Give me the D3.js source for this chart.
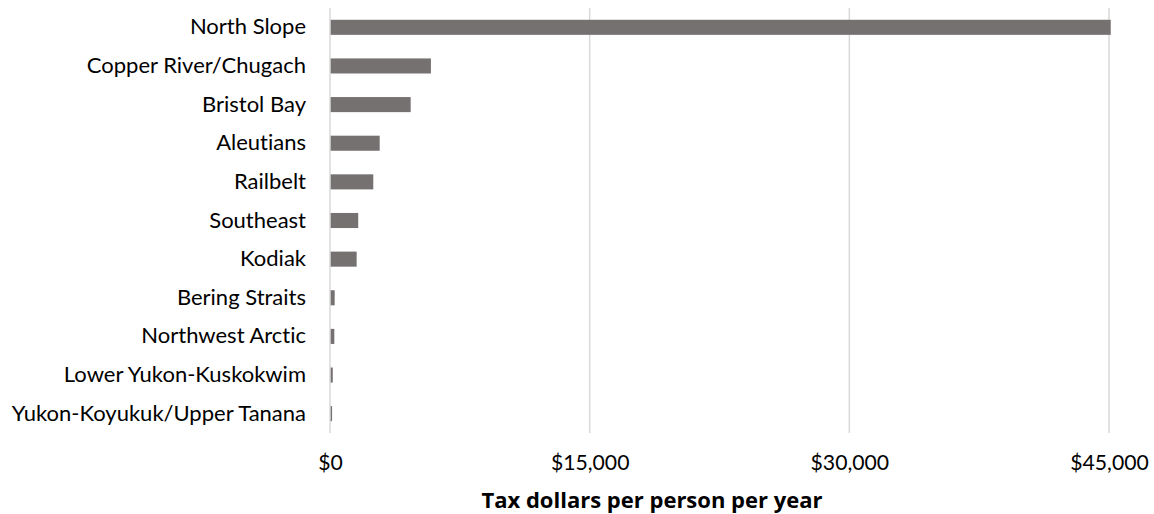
<!DOCTYPE html>
<html>
<head>
<meta charset="utf-8">
<script src="https://cdn.jsdelivr.net/npm/d3@7"></script>
<style>
  html, body { margin: 0; padding: 0; background: #fff; }
  svg { display: block; }
  text {
    font-variant-ligatures: none;
    font-feature-settings: "liga" 0, "clig" 0;
  }
</style>
</head>
<body>
<svg id="chart" width="1154" height="514"></svg>
<script>
// Regions, top to bottom
const regions = [
  "North Slope",
  "Copper River/Chugach",
  "Bristol Bay",
  "Aleutians",
  "Railbelt",
  "Southeast",
  "Kodiak",
  "Bering Straits",
  "Northwest Arctic",
  "Lower Yukon-Kuskokwim",
  "Yukon-Koyukuk/Upper Tanana"
];
// Tax dollars per person per year
const taxPerPerson = [45100, 5830, 4660, 2870, 2500, 1630, 1540, 270, 250, 160, 120];
const xTicks = [0, 15000, 30000, 45000];
const xTitle = "Tax dollars per person per year";

const svg = d3.select("#chart");
const margin = { left: 330, right: 45, top: 8, bottom: 81 };
const W = 1154, H = 514;

const x = d3.scaleLinear()
  .domain([0, 45000])
  .range([margin.left, W - margin.right]);

const y = d3.scaleBand()
  .domain(regions)
  .range([margin.top, H - margin.bottom])
  .paddingInner(0.61)
  .paddingOuter(0.305);

// vertical gridlines
svg.append("g")
  .selectAll("line")
  .data(xTicks)
  .join("line")
  .attr("x1", d => x(d)).attr("x2", d => x(d))
  .attr("y1", margin.top).attr("y2", H - margin.bottom)
  .attr("stroke", "#d9d9d9")
  .attr("stroke-width", 1.5);

// bars
svg.append("g")
  .selectAll("rect")
  .data(regions.map((r, i) => ({ r, v: taxPerPerson[i] })))
  .join("rect")
  .attr("x", x(0) + 0.7)
  .attr("y", d => y(d.r))
  .attr("width", d => Math.max(0, x(d.v) - x(0) - 0.7))
  .attr("height", y.bandwidth())
  .attr("fill", "#767171");

// category labels
const yAxis = d3.axisLeft(y).tickSize(0).tickPadding(24);
const gy = svg.append("g")
  .attr("transform", `translate(${margin.left},0)`)
  .call(yAxis);
gy.select(".domain").remove();
gy.selectAll("text")
  .style("font-family", "Lato, 'Open Sans', sans-serif")
  .style("font-size", "22px")
  .attr("fill", "#000");

// value axis labels
const xAxis = d3.axisBottom(x)
  .tickValues(xTicks)
  .tickSize(0)
  .tickPadding(22)
  .tickFormat(d => "$" + d3.format(",")(d));
const gx = svg.append("g")
  .attr("transform", `translate(0,${H - margin.bottom})`)
  .call(xAxis);
gx.select(".domain").remove();
gx.selectAll("text")
  .style("font-family", "Lato, 'Open Sans', sans-serif")
  .style("font-size", "21.2px")
  .attr("fill", "#000");

// axis title
svg.append("text")
  .attr("x", 652)
  .attr("y", 508)
  .attr("text-anchor", "middle")
  .style("font-family", "'Open Sans', Lato, sans-serif")
  .style("font-size", "22px")
  .style("font-weight", "bold")
  .attr("fill", "#000")
  .text(xTitle);
</script>
</body>
</html>
